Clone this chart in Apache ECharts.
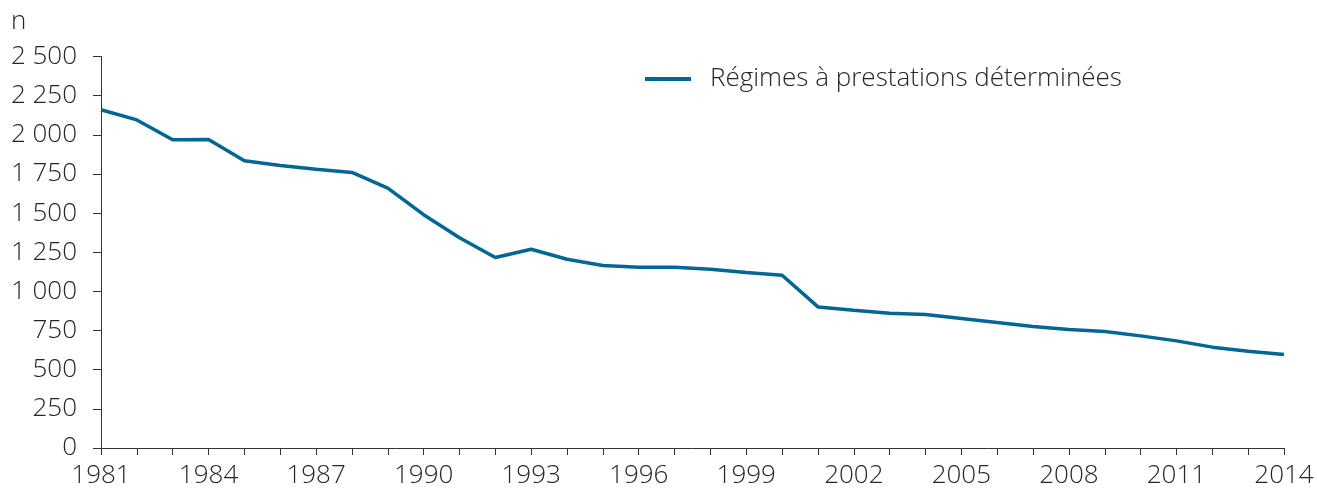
<!DOCTYPE html>
<html>
<head>
<meta charset="utf-8">
<script src="https://cdn.jsdelivr.net/npm/echarts@6/dist/echarts.min.js"></script>
<style>
html,body{margin:0;padding:0;background:#fff;}
#chart{width:1317px;height:489px;}
</style>
</head>
<body>
<div id="chart"></div>
<script>
const years = ['1981','1982','1983','1984','1985','1986','1987','1988','1989','1990','1991','1992','1993','1994','1995','1996','1997','1998','1999','2000','2001','2002','2003','2004','2005','2006','2007','2008','2009','2010','2011','2012','2013','2014'];
const regimesPD = [2160,2095,1968,1970,1834,1804,1780,1760,1660,1490,1343,1216,1269,1205,1165,1154,1154,1141,1120,1103,901,880,861,852,827,801,776,757,744,716,684,644,618,597];
const seriesName = 'Régimes à prestations déterminées';
const yTicks = {min:0, max:2500, interval:250};

const fontFam = '"Open Sans", Roboto, "Liberation Sans", sans-serif';
const txt = '#262626';
const fs = 26;
function fmt(v){ return String(v).replace(/\B(?=(\d{3})+(?!\d))/g, ' '); }

const chart = echarts.init(document.getElementById('chart'), null, {renderer:'canvas'});
chart.setOption({
  animation:false,
  backgroundColor:'#fff',
  grid:{left:101, right:33, top:56.5, bottom:40, containLabel:false},
  graphic:[{type:'text', left:11, top:9, style:{text:'n', font:'300 ' + fs + 'px ' + fontFam, fill:txt}}],
  legend:{
    left:640, top:61, data:[{name:seriesName, icon:'rect'}],
    itemWidth:46, itemHeight:4,
    textStyle:{fontFamily:fontFam, fontWeight:300, fontSize:fs, color:txt, padding:[0,0,0,14]}
  },
  xAxis:{
    type:'category', data:years, boundaryGap:false,
    axisLine:{lineStyle:{color:'#333', width:1}},
    axisTick:{show:true, interval:0, length:7, lineStyle:{color:'#333'}},
    axisLabel:{interval:2, margin:15, fontFamily:fontFam, fontWeight:300, fontSize:fs, color:txt},
    splitLine:{show:false}
  },
  yAxis:{
    type:'value', min:yTicks.min, max:yTicks.max, interval:yTicks.interval,
    axisLine:{show:true, lineStyle:{color:'#333', width:1}},
    axisTick:{show:true, length:8, lineStyle:{color:'#333'}},
    axisLabel:{margin:24, fontFamily:fontFam, fontWeight:300, fontSize:fs, color:txt, formatter:fmt},
    splitLine:{show:false}
  },
  series:[{
    name:seriesName, type:'line', data:regimesPD, symbol:'none',
    lineStyle:{color:'#006794', width:3.5}, itemStyle:{color:'#006794'}
  }]
});
</script>
</body>
</html>
